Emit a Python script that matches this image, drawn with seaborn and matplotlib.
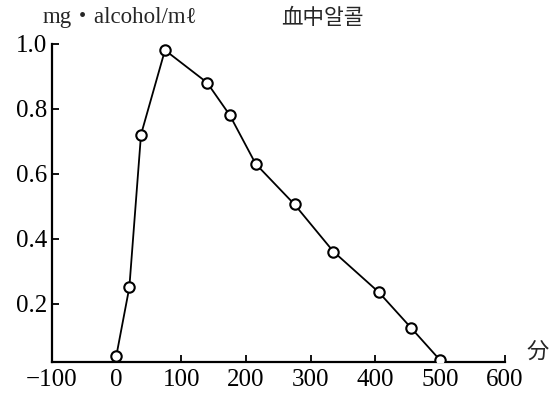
import matplotlib
matplotlib.use("Agg")
from matplotlib import pyplot as plt
import pandas as pd
import seaborn as sns

# values
minutes = [0, 20, 38, 75, 140, 175, 215, 275, 335, 405, 455, 500]
alcohol = [0.04, 0.25, 0.72, 0.98, 0.88, 0.78, 0.63, 0.505, 0.36, 0.235, 0.125, 0.025]
x_ticks = [-100, 0, 100, 200, 300, 400, 500, 600]
x_labels = ['\u2212100', '0', '100', '200', '300', '400', '500', '600']
y_ticks = [0.2, 0.4, 0.6, 0.8, 1.0]
y_labels = ['0.2', '0.4', '0.6', '0.8', '1.0']

df = pd.DataFrame({'min': minutes, 'alc': alcohol})

sns.set_style("ticks")
plt.rcParams['font.family'] = ['Liberation Serif', 'Noto Sans CJK KR', 'DejaVu Sans']

fig = plt.figure(figsize=(5.55, 3.95), dpi=100)
ax = fig.add_axes([0.093, 0.0835, 0.817, 0.806])

sns.lineplot(data=df, x='min', y='alc', color='black', linewidth=1.3,
             marker='o', markersize=7.5, markerfacecolor='white',
             markeredgecolor='black', markeredgewidth=1.5, ax=ax, zorder=3)

ax.set_xlim(-100, 600)
ax.set_ylim(0.02, 1.0)
ax.set_xticks(x_ticks)
ax.set_xticklabels(x_labels)
ax.set_yticks(y_ticks)
ax.set_yticklabels(y_labels)
ax.set_xlabel('')
ax.set_ylabel('')
sns.despine(ax=ax)
for s in ['left', 'bottom']:
    ax.spines[s].set_linewidth(1.6)
    ax.spines[s].set_color('black')
ax.tick_params(direction='in', length=5, width=1.3, colors='black', labelsize=18)
ax.tick_params(axis='x', pad=5)
ax.tick_params(axis='y', pad=3)

fig.text(0.076, 0.955, 'mg\u30fbalcohol/m\u2113', fontsize=16.5, va='center', ha='left')
fig.text(0.507, 0.955, '血中알콜', fontsize=15.5, va='center', ha='left',
         family=['Noto Sans CJK KR'])
fig.text(0.948, 0.11, '分', fontsize=16, va='center', ha='left',
         family=['Noto Sans CJK JP'])

fig.savefig('out.png', dpi=100)
